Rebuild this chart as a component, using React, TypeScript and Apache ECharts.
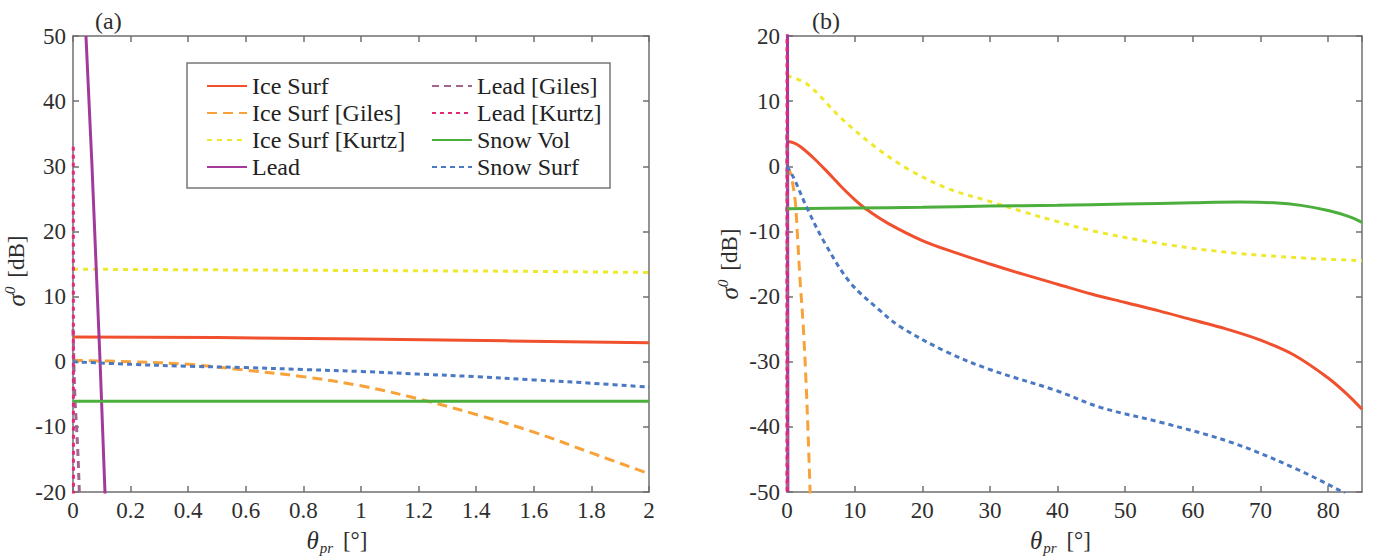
import React, { useEffect, useRef } from "react";
import * as echarts from "echarts";

// ---------- Data: panel (a), x in degrees 0..2 ----------
const iceSurfA = [[0, 3.8], [0.5, 3.7], [1, 3.5], [1.5, 3.2], [2, 2.9]];
const iceGilesA = [[0, 0.2], [0.2, 0.0], [0.4, -0.4], [0.6, -1.3], [0.8, -2.3], [1.0, -3.7], [1.2, -5.7], [1.4, -8.1], [1.6, -10.8], [1.8, -14.0], [2.0, -17.2]];
const iceKurtzA = [[0, 14.2], [0.5, 14.1], [1, 14.0], [1.5, 13.9], [2, 13.7]];
const snowVolA = [[0, -6.05], [1, -6.05], [2, -6.05]];
const snowSurfA = [[0, 0], [0.2, -0.4], [0.4, -0.7], [0.6, -0.9], [0.8, -1.2], [1.0, -1.5], [1.2, -1.9], [1.4, -2.3], [1.6, -2.8], [1.8, -3.3], [2.0, -3.9]];

// ---------- Data: lead curves (same in both panels) ----------
const leadCurve = [[0.045, 50], [0.066, 30], [0.094, 0], [0.111, -20], [0.13, -50]];
const leadGiles = [[0, 5], [0.004, -2], [0.007, -6], [0.013, -10.5], [0.018, -15], [0.022, -20], [0.03, -50]];
const leadKurtz = [[0.001, 33], [0.0015, -20], [0.002, -50]];

// ---------- Data: panel (b), x in degrees 0..85 ----------
const iceSurfB = [[0, 3.8], [1, 3.6], [2, 3.0], [4, 1.2], [6, -0.9], [8, -3.1], [10, -5.1], [12, -6.8], [15, -8.8], [20, -11.4], [25, -13.3], [30, -15.0], [35, -16.6], [40, -18.1], [45, -19.6], [50, -20.9], [55, -22.2], [60, -23.6], [65, -25.0], [70, -26.7], [75, -29.0], [80, -32.5], [83, -35.2], [85, -37.3]];
const iceGilesB = [[0, 0], [0.5, -1], [1.2, -5.2], [1.5, -9.8], [1.9, -17], [2.4, -24.5], [2.8, -32.8], [3.1, -40.5], [3.45, -51]];
const iceKurtzB = [[0, 13.9], [3, 12.6], [8, 7.4], [13, 3.0], [18, -0.5], [24, -3.5], [30, -5.4], [35, -7.0], [40, -8.5], [46, -10.1], [56, -12.0], [66, -13.3], [75, -14.0], [85, -14.5]];
const snowVolB = [[0, -6.5], [10, -6.4], [20, -6.3], [30, -6.1], [40, -6.0], [50, -5.8], [60, -5.6], [67, -5.5], [72, -5.6], [76, -6.0], [80, -6.8], [83, -7.7], [85, -8.6]];
const snowSurfB = [[0, 0], [1, -1.8], [3, -6.5], [5.6, -11.8], [9.3, -17.8], [13.7, -22.1], [16.7, -24.6], [23.6, -28.5], [30, -31.2], [40, -34.5], [46.3, -37.0], [56, -39.5], [66, -42.5], [75.8, -46.7], [82.5, -50.2]];

// ---------- Axis settings ----------
const xTicksA = { min: 0, max: 2, interval: 0.2 };
const yTicksA = { min: -20, max: 50, interval: 10 };
const xTicksB = { min: 0, max: 85, interval: 10 };
const yTicksB = { min: -50, max: 20, interval: 10 };

const legendCol1 = ["Ice Surf", "Ice Surf [Giles]", "Ice Surf [Kurtz]", "Lead"];
const legendCol2 = ["Lead [Giles]", "Lead [Kurtz]", "Snow Vol", "Snow Surf"];

const FONT = "Liberation Serif";
const AXIS_COLOR = "#6f6f6f";
const TXT = "#2e2e2e";

const styles: Record<string, { color: string; type: any; width: number }> = {
  "Ice Surf": { color: "#f0502e", type: "solid", width: 3 },
  "Ice Surf [Giles]": { color: "#f8a23a", type: [10, 6], width: 3 },
  "Ice Surf [Kurtz]": { color: "#efe92e", type: [5, 5], width: 3 },
  Lead: { color: "#a23a9c", type: "solid", width: 3 },
  "Lead [Giles]": { color: "#a2668e", type: [7, 5], width: 3 },
  "Lead [Kurtz]": { color: "#e4287c", type: [4, 4], width: 3 },
  "Snow Vol": { color: "#4cae3c", type: "solid", width: 3 },
  "Snow Surf": { color: "#4a78c2", type: [5, 4], width: 3 },
};

function mkSeries(name: string, data: number[][], axisIdx: number, smooth: any) {
  const s = styles[name];
  return {
    type: "line",
    name,
    data,
    xAxisIndex: axisIdx,
    yAxisIndex: axisIdx,
    showSymbol: false,
    symbol: "none",
    smooth,
    clip: true,
    lineStyle: { color: s.color, type: s.type, width: s.width },
    itemStyle: { color: s.color },
    z: 2,
  };
}

const labelStyle = { fontFamily: FONT, fontSize: 23, color: TXT };

function mainX(t: any, gridIndex: number, shift: number, hideMax: boolean) {
  return {
    type: "value",
    gridIndex,
    position: "bottom",
    ...t,
    name: "{i|θ}{sub|pr} [°]",
    nameLocation: "middle",
    nameGap: 33,
    nameTextStyle: {
      fontFamily: FONT,
      fontSize: 23,
      color: TXT,
      padding: [0, shift, 0, 0],
      rich: {
        i: { fontFamily: FONT, fontStyle: "italic", fontSize: 25, color: TXT, lineHeight: 30, verticalAlign: "middle" },
        sub: { fontFamily: FONT, fontStyle: "italic", fontSize: 15, color: TXT, lineHeight: 30, verticalAlign: "bottom", padding: [0, 4, 0, 1] },
      },
    },
    axisLine: { show: true, onZero: false, lineStyle: { color: AXIS_COLOR, width: 1.5 } },
    axisTick: { show: true, inside: true, length: 6, lineStyle: { color: AXIS_COLOR, width: 1.5 } },
    axisLabel: { ...labelStyle, margin: 7, showMaxLabel: hideMax ? false : true },
    splitLine: { show: false },
  };
}

function topX(t: any, gridIndex: number) {
  return {
    type: "value",
    gridIndex,
    position: "top",
    ...t,
    axisLine: { show: true, onZero: false, lineStyle: { color: AXIS_COLOR, width: 1.5 } },
    axisTick: { show: true, inside: true, length: 6, lineStyle: { color: AXIS_COLOR, width: 1.5 } },
    axisLabel: { show: false },
    splitLine: { show: false },
  };
}

function mainY(t: any, gridIndex: number, gap: number, shiftDown: number) {
  return {
    type: "value",
    gridIndex,
    position: "left",
    ...t,
    name: "{i|σ}{sup|0} [dB]",
    nameLocation: "middle",
    nameGap: gap,
    nameTextStyle: {
      fontFamily: FONT,
      fontSize: 23,
      color: TXT,
      padding: [0, shiftDown, 0, 0],
      rich: {
        i: { fontFamily: FONT, fontStyle: "italic", fontSize: 25, color: TXT, lineHeight: 28, verticalAlign: "middle" },
        sup: { fontFamily: FONT, fontStyle: "italic", fontSize: 15, color: TXT, lineHeight: 28, verticalAlign: "top", padding: [0, 3, 0, 0] },
      },
    },
    axisLine: { show: true, onZero: false, lineStyle: { color: AXIS_COLOR, width: 1.5 } },
    axisTick: { show: true, inside: true, length: 6, lineStyle: { color: AXIS_COLOR, width: 1.5 } },
    axisLabel: { ...labelStyle, margin: 7 },
    splitLine: { show: false },
  };
}

function rightY(t: any, gridIndex: number) {
  return {
    type: "value",
    gridIndex,
    position: "right",
    ...t,
    axisLine: { show: true, onZero: false, lineStyle: { color: AXIS_COLOR, width: 1.5 } },
    axisTick: { show: true, inside: true, length: 6, lineStyle: { color: AXIS_COLOR, width: 1.5 } },
    axisLabel: { show: false },
    splitLine: { show: false },
  };
}

const legendBase = {
  orient: "vertical",
  top: 69,
  itemWidth: 40,
  itemHeight: 14,
  itemGap: 3,
  textStyle: { fontFamily: FONT, fontSize: 24, color: "#222", lineHeight: 20 },
  itemStyle: { opacity: 0 },
  selectedMode: false,
  z: 5,
};

export default function App() {
  const ref = useRef<HTMLDivElement>(null);
  useEffect(() => {
    if (!ref.current) return;
    const chart = echarts.init(ref.current, undefined, { renderer: "svg" });
    const SM = 0.35;
    const option: any = {
      animation: false,
      backgroundColor: "#ffffff",
      textStyle: { fontFamily: FONT },
      title: [
        { text: "(a)", left: 90, top: 4, textStyle: { fontFamily: FONT, fontSize: 24, fontWeight: "normal", color: TXT } },
        { text: "(b)", left: 807, top: 4, textStyle: { fontFamily: FONT, fontSize: 24, fontWeight: "normal", color: TXT } },
      ],
      grid: [
        { left: 73, top: 36, width: 576, height: 456, containLabel: false },
        { left: 787, top: 36, width: 575, height: 456, containLabel: false },
      ],
      xAxis: [mainX(xTicksA, 0, 48, false), topX(xTicksA, 0), mainX(xTicksB, 1, 28, true), topX(xTicksB, 1)],
      yAxis: [mainY(yTicksA, 0, 43, 14), rightY(yTicksA, 0), mainY(yTicksB, 1, 44, 0), rightY(yTicksB, 1)],
      legend: [
        { ...legendBase, data: legendCol1, left: 201 },
        { ...legendBase, data: legendCol2, left: 426 },
      ],
      graphic: [
        {
          type: "rect",
          shape: { x: 187, y: 63, width: 423, height: 125 },
          style: { fill: "#ffffff", stroke: "#777777", lineWidth: 1.5 },
          z: 3,
        },
      ],
      series: [
        mkSeries("Ice Surf", iceSurfA, 0, false),
        mkSeries("Ice Surf [Giles]", iceGilesA, 0, SM),
        mkSeries("Ice Surf [Kurtz]", iceKurtzA, 0, false),
        mkSeries("Lead", leadCurve, 0, false),
        mkSeries("Lead [Giles]", leadGiles, 0, false),
        mkSeries("Lead [Kurtz]", leadKurtz, 0, false),
        mkSeries("Snow Vol", snowVolA, 0, false),
        mkSeries("Snow Surf", snowSurfA, 0, SM),
        mkSeries("Ice Surf", iceSurfB, 2, SM),
        mkSeries("Ice Surf [Giles]", iceGilesB, 2, SM),
        mkSeries("Ice Surf [Kurtz]", iceKurtzB, 2, SM),
        mkSeries("Lead", leadCurve, 2, false),
        mkSeries("Lead [Giles]", leadGiles, 2, false),
        mkSeries("Lead [Kurtz]", leadKurtz, 2, false),
        mkSeries("Snow Vol", snowVolB, 2, SM),
        mkSeries("Snow Surf", snowSurfB, 2, SM),
      ],
    };
    chart.setOption(option);
    return () => chart.dispose();
  }, []);
  return <div ref={ref} style={{ position: "fixed", left: 0, top: 0, width: 1380, height: 560 }} />;
}
